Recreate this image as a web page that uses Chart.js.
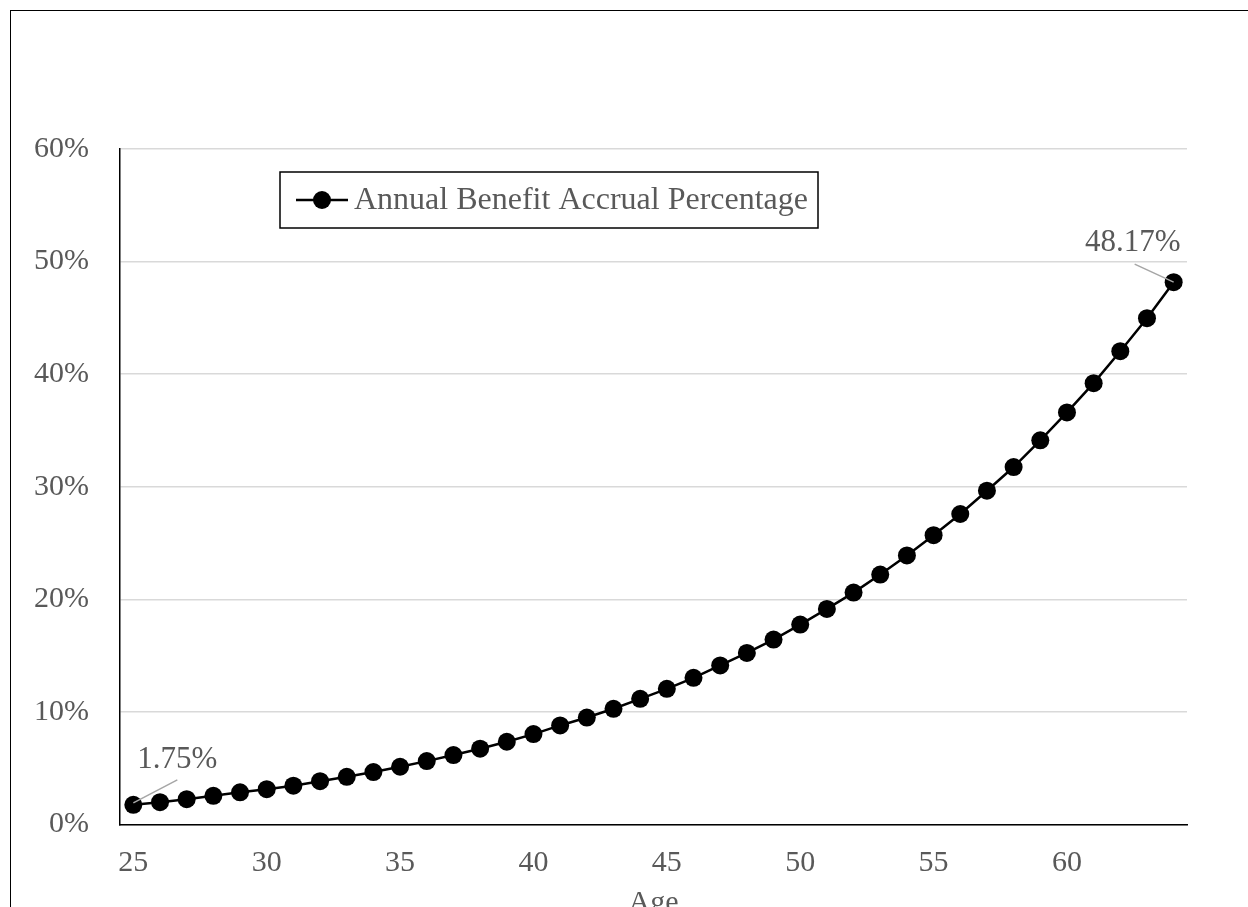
<!DOCTYPE html>
<html>
<head>
<meta charset="utf-8">
<title>Annual Benefit Accrual Percentage</title>
<script src="https://cdn.jsdelivr.net/npm/chart.js@4.4.0/dist/chart.umd.min.js"></script>
<style>
  html, body { margin: 0; padding: 0; background: #fff; overflow: hidden; }
  #frame { position: absolute; left: 10px; top: 10px; width: 1300px; height: 1000px; border: 1.5px solid #000; }
  #chart { position: absolute; left: 0; top: 0; }
</style>
</head>
<body>
<div id="frame"></div>
<canvas id="chart" width="1248" height="930"></canvas>
<script>
// data
const ages = [25, 26, 27, 28, 29, 30, 31, 32, 33, 34, 35, 36, 37, 38, 39, 40, 41, 42, 43, 44,
  45, 46, 47, 48, 49, 50, 51, 52, 53, 54, 55, 56, 57, 58, 59, 60, 61, 62, 63, 64];
const accrual = [1.75, 1.98, 2.25, 2.55, 2.86, 3.14, 3.45, 3.85, 4.24, 4.66,
  5.13, 5.63, 6.17, 6.73, 7.35, 8.03, 8.8, 9.5, 10.28, 11.16,
  12.05, 13.03, 14.13, 15.24, 16.43, 17.76, 19.15, 20.6, 22.2, 23.9,
  25.7, 27.58, 29.65, 31.75, 34.12, 36.6, 39.2, 42.04, 44.97, 48.17];
const yTicks = [0, 10, 20, 30, 40, 50, 60];
const xTickStep = 5;
const seriesName = 'Annual Benefit Accrual Percentage';
const xTitle = 'Age';

const FONT = '"Liberation Serif", "Times New Roman", serif';
const TEXT = '#595959';

// legend drawn inside the plot area
const insideLegend = {
  id: 'insideLegend',
  afterDraw(chart) {
    const ctx = chart.ctx;
    const a = chart.chartArea;
    const x = a.left + 160, y = a.top + 23, w = 538, h = 56;
    ctx.save();
    ctx.fillStyle = '#fff';
    ctx.fillRect(x, y, w, h);
    ctx.strokeStyle = '#000';
    ctx.lineWidth = 1.5;
    ctx.strokeRect(x, y, w, h);
    const cy = y + h / 2;
    ctx.beginPath();
    ctx.moveTo(x + 16, cy);
    ctx.lineTo(x + 68, cy);
    ctx.lineWidth = 2.5;
    ctx.stroke();
    ctx.beginPath();
    ctx.arc(x + 42, cy, 9, 0, Math.PI * 2);
    ctx.fillStyle = '#000';
    ctx.fill();
    ctx.fillStyle = TEXT;
    ctx.font = '32px ' + FONT;
    ctx.textBaseline = 'middle';
    ctx.textAlign = 'left';
    ctx.fillText(seriesName, x + 74, cy + 1);
    ctx.restore();
  }
};

// labels on first and last point, with leader lines
const endLabels = {
  id: 'endLabels',
  afterDatasetsDraw(chart) {
    const ctx = chart.ctx;
    const pts = chart.getDatasetMeta(0).data;
    const first = pts[0], last = pts[pts.length - 1];
    ctx.save();
    ctx.strokeStyle = '#a6a6a6';
    ctx.lineWidth = 1.5;
    ctx.beginPath();
    ctx.moveTo(first.x, first.y - 2);
    ctx.lineTo(first.x + 44, first.y - 25);
    ctx.moveTo(last.x, last.y);
    ctx.lineTo(last.x - 39, last.y - 18);
    ctx.stroke();
    ctx.fillStyle = TEXT;
    ctx.font = '31px ' + FONT;
    ctx.textBaseline = 'middle';
    ctx.textAlign = 'left';
    ctx.fillText(accrual[0].toFixed(2) + '%', first.x + 4, first.y - 45);
    ctx.textAlign = 'right';
    ctx.fillText(accrual[accrual.length - 1].toFixed(2) + '%', last.x + 7, last.y - 39);
    ctx.restore();
  }
};

new Chart(document.getElementById('chart'), {
  type: 'line',
  data: {
    labels: ages,
    datasets: [{
      label: seriesName,
      data: accrual,
      borderColor: '#000',
      borderWidth: 2.5,
      backgroundColor: '#000',
      pointRadius: 9,
      pointBackgroundColor: '#000',
      pointBorderWidth: 0,
      tension: 0
    }]
  },
  options: {
    responsive: false,
    animation: false,
    devicePixelRatio: 1,
    layout: { padding: { top: 149, right: 61, left: 0, bottom: 0 } },
    plugins: {
      legend: { display: false },
      tooltip: { enabled: false }
    },
    scales: {
      x: {
        type: 'category',
        offset: true,
        grid: { display: false, drawTicks: false },
        border: { color: '#000', width: 1.5 },
        ticks: {
          autoSkip: false,
          maxRotation: 0,
          padding: 21,
          color: TEXT,
          font: { family: FONT, size: 30 },
          callback: (v, i) => (ages[i] % xTickStep === 0 ? String(ages[i]) : '')
        },
        title: {
          display: true,
          text: xTitle,
          color: TEXT,
          font: { family: FONT, size: 30 },
          padding: { top: 0, bottom: 9 }
        },
        afterFit: s => { s.height = 105.5; }
      },
      y: {
        min: 0,
        max: 60,
        grid: { color: '#d9d9d9', lineWidth: 1.5, drawTicks: false },
        border: { color: '#000', width: 1.5 },
        ticks: {
          padding: 31,
          color: TEXT,
          font: { family: FONT, size: 30 },
          callback: v => v + '%'
        },
        afterBuildTicks: s => { s.ticks = yTicks.map(v => ({ value: v })); },
        afterFit: s => { s.width = 120; }
      }
    }
  },
  plugins: [insideLegend, endLabels]
});
</script>
</body>
</html>
